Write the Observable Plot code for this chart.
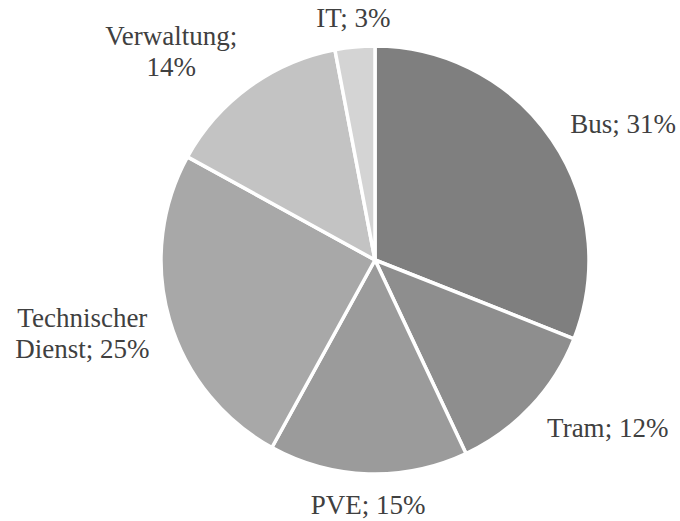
<!DOCTYPE html>
<html>
<head>
<meta charset="utf-8">
<script src="https://cdn.jsdelivr.net/npm/d3@7"></script>
<script src="https://cdn.jsdelivr.net/npm/@observablehq/plot@0.6"></script>
<style>
  html, body { margin: 0; padding: 0; background: #fff; }
</style>
</head>
<body>
<div id="chart"></div>
<script>
// ---- data ----
const categories = ["Bus", "Tram", "PVE", "Technischer Dienst", "Verwaltung", "IT"];
const shares = [31, 12, 15, 25, 14, 3];
const labels = ["Bus; 31%", "Tram; 12%", "PVE; 15%", "Technischer\nDienst; 25%", "Verwaltung;\n14%", "IT; 3%"];
const colors = ["#7f7f7f", "#8e8e8e", "#9b9b9b", "#a8a8a8", "#c3c3c3", "#d4d4d4"];

// ---- layout ----
const W = 680, H = 521;
const CX = 375, CY = 260, R = 214;       // pie centre and radius in px
const FONT = 27, LINE = 1.12;
const FAMILY = "Liberation Serif";

const data = categories.map((c, i) => ({name: c, value: shares[i], label: labels[i], color: colors[i]}));
const arcs = d3.pie().value(d => d.value).sort(null).startAngle(0).endAngle(2 * Math.PI)(data);

// measure label text to place boxes outside the pie (Excel "outside end")
const ctx = document.createElement("canvas").getContext("2d");
ctx.font = `${FONT}px "${FAMILY}"`;
const rxLab = 1.1, ryLab = 1.07;
const labelData = arcs.map(a => {
  const m = (a.startAngle + a.endAngle) / 2;
  const s = Math.sin(m), c = Math.cos(m);
  const lines = a.data.label.split("\n");
  const w = Math.max(...lines.map(l => ctx.measureText(l).width));
  const h = lines.length * FONT * LINE;
  const hs = s > 0.3 ? 1 : s < -0.3 ? -1 : 0;
  return {
    label: a.data.label,
    x: rxLab * s + hs * (w / 2) / R,
    y: ryLab * c + c * (h / 2) / R
  };
});

const colorOf = d3.scaleOrdinal(categories, colors);

const chart = Plot.plot({
  width: W,
  height: H,
  margin: 0,
  x: {domain: [-CX / R, (W - CX) / R], axis: null},
  y: {domain: [-(H - CY) / R, CY / R], axis: null},
  style: {background: "#fff"},
  marks: [
    (index, scales) => {
      const x = scales.x, y = scales.y;
      const cx = x(0), cy = y(0), r = x(1) - x(0);
      const g = d3.create("svg:g").attr("transform", `translate(${cx},${cy})`);
      const arc = d3.arc().innerRadius(0).outerRadius(r);
      g.selectAll("path")
        .data(arcs)
        .join("path")
        .attr("d", arc)
        .attr("fill", d => colorOf(d.data.name))
        .attr("stroke", "#fff")
        .attr("stroke-width", 3.5)
        .attr("stroke-linejoin", "round");
      return g.node();
    },
    Plot.text(labelData, {
      x: "x",
      y: "y",
      text: "label",
      textAnchor: "middle",
      lineAnchor: "middle",
      lineHeight: LINE,
      fontSize: FONT,
      fontFamily: FAMILY,
      fill: "#404040"
    })
  ]
});

document.getElementById("chart").appendChild(chart);
</script>
</body>
</html>
